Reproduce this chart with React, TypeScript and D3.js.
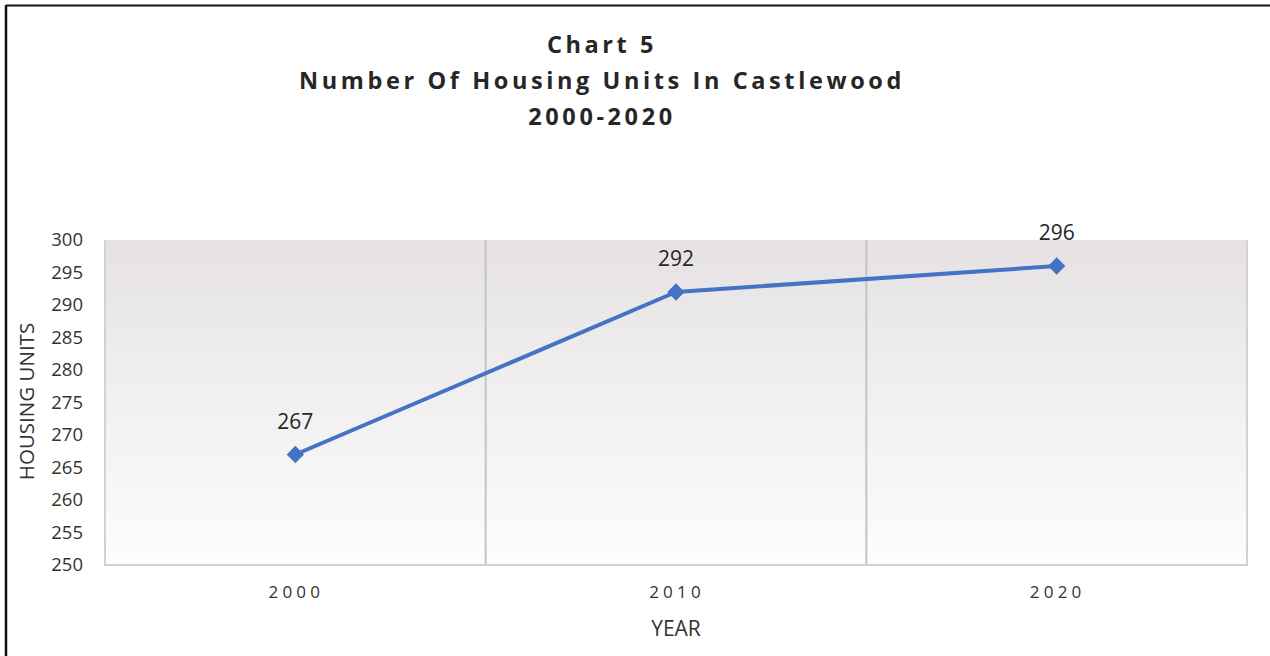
import React from "react";
import * as d3 from "d3";

const years = ["2000", "2010", "2020"];
const units = [267, 292, 296];
const yTicks = [250, 255, 260, 265, 270, 275, 280, 285, 290, 295, 300];
const titleLines = ["Chart 5", "Number Of Housing Units In Castlewood", "2000-2020"];

export default function App() {
  const W = 1270, H = 656;
  const left = 105, right = 1247, top = 240, bottom = 565;
  const x = d3.scaleBand<string>().domain(years).range([left, right]);
  const y = d3.scaleLinear().domain([250, 300]).range([bottom, top]);
  const line = d3.line<number>()
    .x((_, i) => (x(years[i]) as number) + x.bandwidth() / 2)
    .y((d) => y(d));
  const font = "'Open Sans', 'Noto Sans', sans-serif";
  const diamond = d3.symbol().type(d3.symbolDiamond2).size(190)();
  return (
    <svg width={W} height={H} style={{ position: "absolute", left: 0, top: 0, display: "block" }}>
      <defs>
        <linearGradient id="bg" x1="0" y1="0" x2="0" y2="1">
          <stop offset="0" stopColor="#e6e2e4" />
          <stop offset="1" stopColor="#fdfdfd" />
        </linearGradient>
      </defs>
      <rect x={0} y={0} width={W} height={H} fill="#fff" />
      <line x1={6} y1={5.5} x2={W} y2={5.5} stroke="#111" strokeWidth={2} />
      <line x1={6} y1={5} x2={6} y2={H} stroke="#111" strokeWidth={2.5} />
      {titleLines.map((t, i) => (
        <text key={i} x={602} y={53 + i * 36} textAnchor="middle" fontFamily={font}
          fontWeight={700} fontSize={23.5} letterSpacing={3.6} fill="#262626">{t}</text>
      ))}
      <rect x={left} y={top} width={right - left} height={bottom - top} fill="url(#bg)" />
      {years.slice(1).map((yr) => (
        <line key={yr} x1={x(yr)} x2={x(yr)} y1={top} y2={bottom} stroke="#c4c4c4" strokeWidth={2} />
      ))}
      <path d={`M${left},${top} V${bottom} H${right} V${top}`} fill="none" stroke="#d2d2d2" strokeWidth={2} />
      {yTicks.map((t) => (
        <text key={t} x={83} y={y(t)} dy="0.35em" textAnchor="end" fontFamily={font}
          fontSize={18.5} fill="#333">{t}</text>
      ))}
      {years.map((yr) => (
        <text key={yr} x={(x(yr) as number) + x.bandwidth() / 2 + 1} y={598} textAnchor="middle"
          fontFamily={font} fontSize={17} letterSpacing={4.2} fill="#333">{yr}</text>
      ))}
      <text x={676} y={636} textAnchor="middle" fontFamily={font} fontSize={21} fill="#333">YEAR</text>
      <text transform={`translate(34,${(top + bottom) / 2 - 1}) rotate(-90)`} textAnchor="middle"
        fontFamily={font} fontSize={20.5} fill="#333">HOUSING UNITS</text>
      <path d={line(units) || ""} fill="none" stroke="#4472c4" strokeWidth={4} strokeLinejoin="round" />
      {units.map((v, i) => {
        const cx = (x(years[i]) as number) + x.bandwidth() / 2;
        return (
          <g key={i}>
            <path d={diamond || ""} transform={`translate(${cx},${y(v)})`} fill="#4472c4" />
            <text x={cx} y={y(v) - 26} textAnchor="middle" fontFamily={font} fontSize={21} fill="#262626">{v}</text>
          </g>
        );
      })}
    </svg>
  );
}
